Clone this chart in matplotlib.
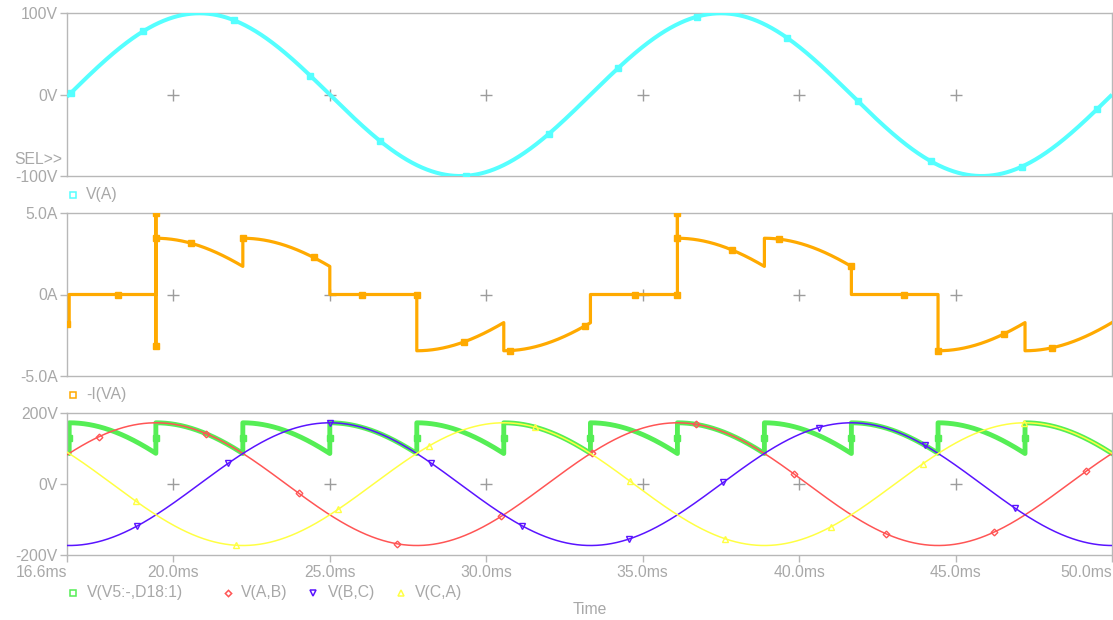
import numpy as np
import matplotlib
matplotlib.use("Agg")
import matplotlib.pyplot as plt
from matplotlib.lines import Line2D

# ---------------------------------------------------------------- data ----
T_START_MS, T_END_MS = 16.6, 50.0
TIME_TICKS_MS = [16.6, 20.0, 25.0, 30.0, 35.0, 40.0, 45.0, 50.0]
TIME_TICK_LABELS = ["16.6ms", "20.0ms", "25.0ms", "30.0ms",
                    "35.0ms", "40.0ms", "45.0ms", "50.0ms"]

LINE_FREQ_HZ = 60.0      # source frequency
PHASE_PEAK_V = 100.0     # amplitude of V(A)
LINE_PEAK_V = 173.2      # amplitude of the line-to-line voltages

# line-to-line traces: name and phase relative to V(A) in degrees
LINE_NAMES = ["V(A,B)", "V(B,C)", "V(C,A)"]
LINE_PHASES_DEG = [30.0, -90.0, 150.0]

# bridge commutation instants (ms); each starts a 60-degree conduction
# interval, and the phase-A current has the listed sign during it
COMMUTATION_MS = [13.89, 16.67, 19.44, 22.22, 25.00, 27.78, 30.56,
                  33.33, 36.11, 38.89, 41.67, 44.44, 47.22]
PHASE_A_SIGN = [-1, 0, 1, 1, 0, -1, -1, 0, 1, 1, 0, -1, -1]
LOAD_OHMS = 50.0

# switching spikes on -I(VA): time (ms), upper (A), lower (A)
SPIKE_MS = [19.44, 36.11]
SPIKE_HIGH_A = [5.0, 5.0]
SPIKE_LOW_A = [-3.2, 0.0]

VA_TICKS = [-100, 0, 100]
VA_LABELS = ["-100V", "0V", "100V"]
IA_TICKS = [-5, 0, 5]
IA_LABELS = ["-5.0A", "0A", "5.0A"]
VLL_TICKS = [-200, 0, 200]
VLL_LABELS = ["-200V", "0V", "200V"]

# ------------------------------------------------------------- styling ----
plt.rcParams["font.family"] = ["Liberation Sans", "DejaVu Sans"]
TXT = "#a8a8a8"
FRAME = "#b8b8b8"
CROSS = "#9c9c9c"
FS = 11.3
C_CYAN = "#55ffff"
C_ORANGE = "#ffaa00"
C_GREEN = "#55ee55"
C_RED = "#ff5555"
C_BLUE = "#5a14ff"
C_YELLOW = "#ffff44"

W, H = 1113, 620
fig = plt.figure(figsize=(W / 100, H / 100), dpi=100)


def fx(px):
    return px / W


def fy(py):
    return 1 - py / H


def panel(top_px, bot_px):
    return fig.add_axes([fx(67), fy(bot_px), (1112 - 67) / W, (bot_px - top_px) / H])


ax_v = panel(13.3, 176.0)
ax_i = panel(213.3, 375.7)
ax_l = panel(413.3, 555.0)

# ------------------------------------------------------------ waveforms ----
w = 2 * np.pi * LINE_FREQ_HZ / 1000.0          # rad per ms
t = np.linspace(T_START_MS, T_END_MS, 4000)
v_a = PHASE_PEAK_V * np.sin(w * t)
v_lines = [LINE_PEAK_V * np.sin(w * t + np.deg2rad(p)) for p in LINE_PHASES_DEG]

# rectifier voltage and phase-A current, interval by interval
bounds = COMMUTATION_MS + [T_END_MS]
g_t, g_v, g_mark = [], [], []
i_t, i_a = [], []
for k, t0 in enumerate(COMMUTATION_MS):
    a = max(t0, T_START_MS)
    b = bounds[k + 1]
    tt = np.linspace(a, b, 300)
    vv = LINE_PEAK_V * np.cos(w * (tt - t0))
    ii = PHASE_A_SIGN[k] * vv / LOAD_OHMS
    if g_v and t0 >= T_START_MS:
        # marker halfway up the commutation step
        g_t.append(t0)
        g_v.append(0.5 * (g_v[-1] + vv[0]))
        g_mark.append(len(g_t) - 1)
    g_t.extend(tt)
    g_v.extend(vv)

    if t0 in SPIKE_MS:
        j = SPIKE_MS.index(t0)
        i_t.extend([t0, t0, t0])
        i_a.extend([0.0, SPIKE_HIGH_A[j], SPIKE_LOW_A[j]])
    i_t.extend(tt)
    i_a.extend(ii)

g_t = np.array(g_t)
g_v = np.array(g_v)

# ---------------------------------------------------------------- plots ----
ax_v.plot(t, v_a, color=C_CYAN, lw=2.9, marker="s", ms=4.5,
          markevery=(0.005, 0.09), solid_capstyle="butt", zorder=3)

ax_i.plot(i_t, i_a, color=C_ORANGE, lw=2.3, marker="s", ms=4.5,
          markevery=(0.0, 0.075), zorder=3)

ax_l.plot(g_t, g_v, color=C_GREEN, lw=3.5, marker="s", ms=5,
          markevery=g_mark, zorder=2)
line_style = [(C_RED, "D", 3.4, 0.035), (C_BLUE, "v", 5.0, 0.07),
              (C_YELLOW, "^", 5.0, 0.08)]
for vv, (c, m, ms, off) in zip(v_lines, line_style):
    ax_l.plot(t, vv, color=c, lw=1.1, marker=m, ms=ms, mfc="none", mec=c,
              mew=1.0, markevery=(off, 0.105), zorder=3)

# --------------------------------------------------------------- axes ------
specs = [(ax_v, (-100, 100), VA_TICKS, VA_LABELS),
         (ax_i, (-5, 5), IA_TICKS, IA_LABELS),
         (ax_l, (-200, 200), VLL_TICKS, VLL_LABELS)]
inner = TIME_TICKS_MS[1:-1]
for ax, ylim, yt, yl in specs:
    ax.set_xlim(T_START_MS, T_END_MS)
    ax.set_ylim(*ylim)
    ax.set_yticks(yt)
    ax.set_yticklabels(yl)
    for s in ax.spines.values():
        s.set_color(FRAME)
        s.set_linewidth(1.0)
    ax.tick_params(axis="y", colors=FRAME, labelcolor=TXT, labelsize=FS,
                   length=5, width=1.0, pad=1.5)
    ax.plot(inner, [0] * len(inner), ls="none", marker="+", ms=8.5,
            mew=1.0, color=CROSS, zorder=1)
    ax.set_facecolor("white")

for ax in (ax_v, ax_i):
    ax.set_xticks([])

ax_l.set_xticks(TIME_TICKS_MS)
ax_l.set_xticklabels(TIME_TICK_LABELS)
ax_l.tick_params(axis="x", colors=FRAME, labelcolor=TXT, labelsize=FS,
                 length=5, width=1.0, pad=2.5)
labels = ax_l.get_xticklabels()
labels[0].set_ha("right")
labels[-1].set_ha("right")

# ------------------------------------------------------------- legends -----
def legend_item(x_mark, y, marker, color, ms, text, x_text):
    fig.add_artist(Line2D([fx(x_mark)], [fy(y)], transform=fig.transFigure,
                          marker=marker, ms=ms, mfc="none", mec=color,
                          mew=1.1, ls="none"))
    fig.text(fx(x_text), fy(y), text, color=TXT, fontsize=FS,
             ha="left", va="center")


legend_item(73, 195, "s", C_CYAN, 4.0, "V(A)", 86)
legend_item(73, 395, "s", C_ORANGE, 4.0, "-I(VA)", 86)
legend_item(73, 593, "s", C_GREEN, 4.0, "V(V5:-,D18:1)", 87)
legend_item(228, 593, "D", C_RED, 3.2, LINE_NAMES[0], 241)
legend_item(313, 593, "v", C_BLUE, 4.5, LINE_NAMES[1], 328)
legend_item(401, 593, "^", C_YELLOW, 4.5, LINE_NAMES[2], 415)

fig.text(fx(62), fy(160), "SEL>>", color=TXT, fontsize=FS,
         ha="right", va="center")
fig.text(fx(590), fy(610), "Time", color=TXT, fontsize=FS,
         ha="center", va="center")

fig.savefig("out.png", dpi=100, facecolor="white")
